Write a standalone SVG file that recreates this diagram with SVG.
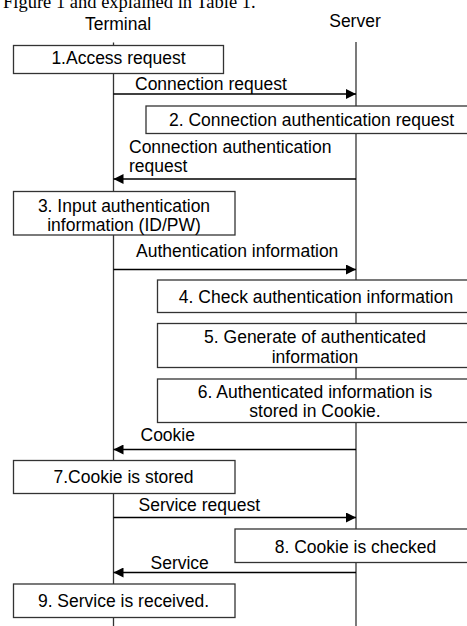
<svg xmlns="http://www.w3.org/2000/svg" width="467" height="626" viewBox="0 0 467 626">
<style>
text{font-family:"Liberation Sans",Arial,sans-serif;font-size:17.5px;fill:#000}
.cap{font-family:"Liberation Serif","Times New Roman",serif;font-size:18.5px}
.box{fill:#fff;stroke:#333;stroke-width:1.3}
.life{stroke:#333;stroke-width:1.3}
.msg{stroke:#000;stroke-width:1.3;fill:none}
.c{text-anchor:middle}
</style>
<defs>
<marker id="ah" viewBox="0 0 10 10" refX="10" refY="5" markerWidth="10" markerHeight="10" markerUnits="userSpaceOnUse" orient="auto">
<path d="M0,0 L10,5 L0,10 Z" fill="#000"/>
</marker>
</defs>
<rect width="467" height="626" fill="#fff"/>
<text class="cap" x="3" y="7.5">Figure 1 and explained in Table 1.</text>
<g id="terminal"><text class="c" x="118" y="30">Terminal</text><line class="life" x1="113.5" y1="42.5" x2="113.5" y2="626"/></g>
<g id="server"><text class="c" x="355" y="27">Server</text><line class="life" x1="356" y1="42" x2="356" y2="626"/></g>
<g id="connectors">
<line class="msg" x1="113.5" y1="94" x2="356" y2="94" marker-end="url(#ah)"/>
<text x="135" y="89.5">Connection request</text>
<line class="msg" x1="356" y1="179" x2="113.5" y2="179" marker-end="url(#ah)"/>
<text x="129" y="153">Connection authentication</text>
<text x="129" y="171.5">request</text>
<line class="msg" x1="113.5" y1="269.5" x2="356" y2="269.5" marker-end="url(#ah)"/>
<text x="136" y="256.5">Authentication information</text>
<line class="msg" x1="356" y1="449.5" x2="113.5" y2="449.5" marker-end="url(#ah)"/>
<text x="140.5" y="440.5">Cookie</text>
<line class="msg" x1="113.5" y1="517.5" x2="356" y2="517.5" marker-end="url(#ah)"/>
<text x="138.5" y="511">Service request</text>
<line class="msg" x1="356" y1="572.5" x2="113.5" y2="572.5" marker-end="url(#ah)"/>
<text x="150.5" y="569">Service</text>
</g>
<g id="step1"><rect class="box" x="13.5" y="45.5" width="210" height="28"/><text class="c" x="118.5" y="64">1.Access request</text></g>
<g id="step2"><rect class="box" x="146" y="106" width="331" height="27.5"/><text class="c" x="311.5" y="126">2. Connection authentication request</text></g>
<g id="step3"><rect class="box" x="13.5" y="191.5" width="221.5" height="43.5"/><text class="c" x="124" y="211.5">3. Input authentication</text><text class="c" x="124" y="230.5">information (ID/PW)</text></g>
<g id="step4"><rect class="box" x="157.5" y="280" width="318" height="32.5"/><text class="c" x="316" y="303">4. Check authentication information</text></g>
<g id="step5"><rect class="box" x="157.5" y="323.5" width="318" height="44"/><text class="c" x="315" y="343">5. Generate of authenticated</text><text class="c" x="315" y="362.5">information</text></g>
<g id="step6"><rect class="box" x="157.5" y="379" width="318" height="43.5"/><text class="c" x="315" y="398">6. Authenticated information is</text><text class="c" x="315" y="416.5">stored in Cookie.</text></g>
<g id="step7"><rect class="box" x="13.5" y="460.5" width="221.5" height="33"/><text class="c" x="123.5" y="483">7.Cookie is stored</text></g>
<g id="step8"><rect class="box" x="235" y="529" width="241" height="33.5"/><text class="c" x="355.5" y="552.5">8. Cookie is checked</text></g>
<g id="step9"><rect class="box" x="13.5" y="584" width="221.5" height="33.5"/><text class="c" x="123.5" y="606.5">9. Service is received.</text></g>
</svg>
